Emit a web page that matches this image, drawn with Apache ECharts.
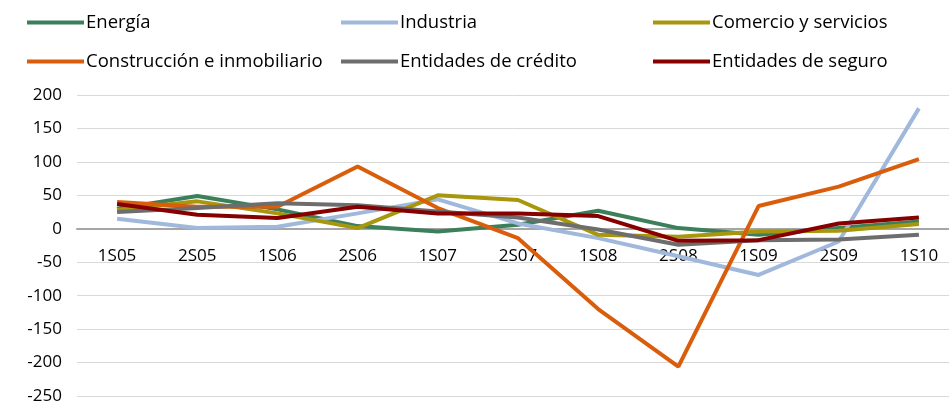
<!DOCTYPE html>
<html>
<head>
<meta charset="utf-8">
<script src="https://cdn.jsdelivr.net/npm/echarts@6/dist/echarts.min.js"></script>
<style>html,body{margin:0;padding:0;background:#fff}#c{width:949px;height:405px}</style>
</head>
<body>
<div id="c"></div>
<script>
const categories = ['1S05','2S05','1S06','2S06','1S07','2S07','1S08','2S08','1S09','2S09','1S10'];
const energia = [30, 49, 29, 4, -4, 6, 27, 1, -9, 1, 11];
const industria = [15, 1, 3, 23, 44, 8, -14, -41, -69, -19, 180];
const comercio = [28, 41, 23, 1, 50, 43, -9, -12, -4, -3, 7];
const construccion = [40, 33, 33, 93, 31, -14, -120, -206, 34, 63, 104];
const credito = [25, 31, 38, 35, 26, 17, -1, -24, -17, -16, -9];
const seguro = [37, 21, 16, 33, 23, 23, 19, -18, -17, 8, 17];
const yTicks = {min: -250, max: 200, interval: 50};

const names = ['Energía','Industria','Comercio y servicios','Construcción e inmobiliario','Entidades de crédito','Entidades de seguro'];
const datas = [energia, industria, comercio, construccion, credito, seguro];
const colors = ['#3c7f5b','#9fb8db','#a8960c','#d95d0b','#6d6d6d','#860000'];
const font = 'Open Sans';
const legendPos = [[27,13],[341,13],[653,13],[27,52],[341,52],[653,52]];

const gridTop = 95, gridBottom = 9, H = 405;
const plotH = H - gridTop - gridBottom;
const zeroOffset = -plotH * (0 - yTicks.min) / (yTicks.max - yTicks.min);

const chart = echarts.init(document.getElementById('c'));
chart.setOption({
  animation: false,
  color: colors,
  textStyle: {fontFamily: font},
  legend: names.map((n, i) => ({
    data: [n], left: legendPos[i][0], top: legendPos[i][1],
    icon: 'rect', itemWidth: 57, itemHeight: 4, padding: 0,
    textStyle: {fontFamily: font, fontSize: 18.5, color: '#000', padding: [0,0,0,-3]}
  })),
  grid: {left: 77, right: -10, top: gridTop, bottom: gridBottom, containLabel: false, outerBoundsMode: 'none'},
  xAxis: {
    type: 'category', data: categories, boundaryGap: true,
    position: 'bottom', offset: zeroOffset,
    axisLine: {onZero: false, lineStyle: {color: '#a6a6a6', width: 2}},
    axisTick: {show: false},
    axisLabel: {color: '#000', fontSize: 17, fontFamily: font, margin: 19}
  },
  yAxis: {
    type: 'value', min: yTicks.min, max: yTicks.max, interval: yTicks.interval,
    axisLine: {show: false}, axisTick: {show: false},
    axisLabel: {color: '#000', fontSize: 17, fontFamily: font, margin: 15},
    splitLine: {lineStyle: {color: '#d9d9d9', width: 1}}
  },
  series: names.map((n, i) => ({
    name: n, type: 'line', data: datas[i], symbol: 'none', z: 2 + i,
    lineStyle: {width: 4, color: colors[i]}, itemStyle: {color: colors[i]}
  }))
});
</script>
</body>
</html>
